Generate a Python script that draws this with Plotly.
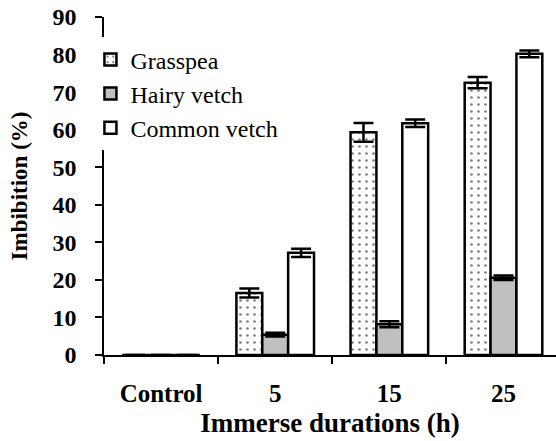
import plotly.graph_objects as go

categories = ["Control", "5", "15", "25"]
grasspea = [0, 16.5, 59.3, 72.5]
grasspea_err = [0, 1.2, 2.5, 1.5]
hairy_vetch = [0, 5.4, 8.2, 20.6]
hairy_vetch_err = [0, 0.5, 0.8, 0.6]
common_vetch = [0, 27.2, 61.7, 80.2]
common_vetch_err = [0, 1.1, 1.0, 0.9]
y_ticks = [0, 10, 20, 30, 40, 50, 60, 70, 80, 90]

FONT = "Liberation Serif"
line = dict(color="black", width=2.5)
err = lambda a: dict(type="data", array=a, visible=True, color="black", thickness=2.5, width=10)

fig = go.Figure()
fig.add_trace(go.Bar(
    name="Grasspea", x=categories, y=grasspea, error_y=err(grasspea_err),
    marker=dict(color="white", line=line,
                pattern=dict(shape=".", fgcolor="black", bgcolor="white", size=7, solidity=0.12)),
))
fig.add_trace(go.Bar(
    name="Hairy vetch", x=categories, y=hairy_vetch, error_y=err(hairy_vetch_err),
    marker=dict(color="#c0c0c0", line=line),
))
fig.add_trace(go.Bar(
    name="Common vetch", x=categories, y=common_vetch, error_y=err(common_vetch_err),
    marker=dict(color="white", line=line),
))

fig.update_layout(
    width=556, height=441,
    margin=dict(l=104, r=0, t=17, b=86, autoexpand=False),
    paper_bgcolor="white", plot_bgcolor="white",
    barmode="group", bargap=0.32, bargroupgap=0,
    font=dict(family=FONT, color="black"),
    showlegend=True,
    hovermode=False,
    legend=dict(x=-0.03, xanchor="left", y=0.94, yanchor="top",
                bgcolor="white", borderwidth=0,
                font=dict(family=FONT, size=24, color="black"),
                tracegroupgap=0, itemclick=False),
    xaxis=dict(
        type="category", range=[-0.5, 3.46],
        showline=True, linecolor="black", linewidth=1.5,
        ticks="outside", tickson="boundaries", ticklen=7, tickcolor="black", tickwidth=1.5,
        ticklabelstandoff=15,
        tickfont=dict(family=FONT, size=25, color="black", weight="bold"),
        title=dict(text="<b>Immerse durations (h)</b>", font=dict(family=FONT, size=27, color="black"), standoff=7),
        showgrid=False, automargin=False,
    ),
    yaxis=dict(
        range=[0, 90], tickvals=y_ticks,
        showline=True, linecolor="black", linewidth=1.5,
        ticks="outside", ticklen=7, tickcolor="black", tickwidth=1.5,
        ticklabelstandoff=14, ticklabeloverflow="allow",
        tickfont=dict(family=FONT, size=24, color="black", weight="bold"),
        title=dict(text="<b>Imbibition (%)</b>", font=dict(family=FONT, size=23, color="black"), standoff=18),
        showgrid=False, zeroline=False, automargin=False,
    ),
)

# remove the default 8px page margin so the figure fills the window exactly
fig.write_html("out.html", config={"displayModeBar": False},
               post_script="document.body.style.margin='0';")
